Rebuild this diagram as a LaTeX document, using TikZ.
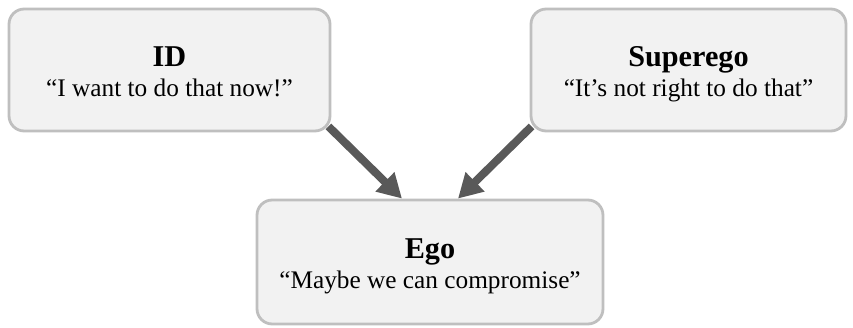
\documentclass[tikz,border=0pt]{standalone}
\usepackage{fontspec}
\setmainfont{Liberation Serif}
\usetikzlibrary{arrows.meta, positioning}

\definecolor{boxfill}{HTML}{F2F2F2}
\definecolor{boxline}{HTML}{BFBFBF}
\definecolor{arrowgray}{HTML}{595959}

% title line and quote line of one box
\newcommand{\partlabel}[2]{%
  \rule{0pt}{22pt}{\fontsize{21.5}{25}\selectfont\bfseries #1}\\
  \rule[-5pt]{0pt}{5pt}#2}

\begin{document}
\begin{tikzpicture} [%
    node distance = 2cm,
    on grid,
    >= {Triangle[length=0.6cm, width=0.64cm]},
    part/.style = {%
      rectangle, rounded corners = 0.38cm,
      fill = boxfill, draw = boxline,
      line width = 2pt,
      align = center, font = \fontsize{18}{21.3}\selectfont,
      inner sep = 0pt },
    push/.style = {->, arrowgray, line width = 5.7pt}
  ]

\useasboundingbox (0,0) rectangle (21.325,8.2);

\node[part, minimum width=8.65cm, minimum height=3.1cm]  (ego) at (10.75,1.65)
  {\partlabel{Ego}{“Maybe we can compromise”}};
\node[part, minimum width=8.025cm, minimum height=3.05cm] (id)
  [above left=4.8cm and 6.5125cm of ego]
  {\partlabel{ID}{“I want to do that now!”}};
\node[part, minimum width=7.875cm, minimum height=3.05cm] (superego)
  [above right=4.8cm and 6.4625cm of ego]
  {\partlabel{Superego}{“It’s not right to do that”}};

\draw[push] ([shift={(-0.075,0.15)}]id.south east) -- ([xshift=-0.7cm]ego.north);
\draw[push] ([shift={(0.05,0.15)}]superego.south west) -- ([xshift=0.7cm]ego.north);

\end{tikzpicture}
\end{document}
